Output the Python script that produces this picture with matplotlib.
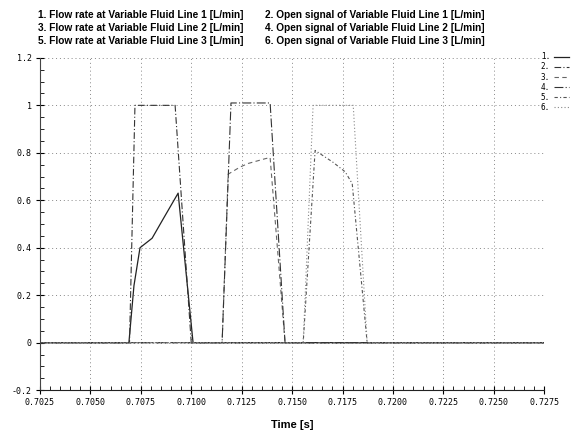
import matplotlib
matplotlib.use("Agg")
import matplotlib.pyplot as plt
import numpy as np
from matplotlib.ticker import MultipleLocator

T0, T1 = 0.7025, 0.7275

# Flow rate at Variable Fluid Line 1
t_flow1 = [0.7025, 0.70691, 0.70716, 0.70746, 0.70806, 0.70860, 0.70935, 0.71009, 0.7275]
v_flow1 = [0.0, 0.0, 0.24, 0.40, 0.44, 0.52, 0.63, 0.0, 0.0]
# Open signal of Variable Fluid Line 1
t_open1 = [0.7025, 0.70694, 0.70721, 0.70920, 0.71000, 0.7275]
v_open1 = [0.0, 0.0, 1.0, 1.0, 0.0, 0.0]
# Flow rate at Variable Fluid Line 2
t_flow2 = [0.7025, 0.71153, 0.71183, 0.71242, 0.71282, 0.71366, 0.71391, 0.71465, 0.7275]
v_flow2 = [0.0, 0.0, 0.71, 0.74, 0.755, 0.775, 0.78, 0.0, 0.0]
# Open signal of Variable Fluid Line 2
t_open2 = [0.7025, 0.71153, 0.71197, 0.71391, 0.71465, 0.7275]
v_open2 = [0.0, 0.0, 1.01, 1.01, 0.0, 0.0]
# Flow rate at Variable Fluid Line 3
t_flow3 = [0.7025, 0.71555, 0.71614, 0.71703, 0.71763, 0.71798, 0.71872, 0.7275]
v_flow3 = [0.0, 0.0, 0.81, 0.76, 0.72, 0.67, 0.0, 0.0]
# Open signal of Variable Fluid Line 3
t_open3 = [0.7025, 0.71555, 0.71604, 0.71803, 0.71872, 0.7275]
v_open3 = [0.0, 0.0, 1.0, 1.0, 0.0, 0.0]

titles = ["1. Flow rate at Variable Fluid Line 1 [L/min]",
          "2. Open signal of Variable Fluid Line 1 [L/min]",
          "3. Flow rate at Variable Fluid Line 2 [L/min]",
          "4. Open signal of Variable Fluid Line 2 [L/min]",
          "5. Flow rate at Variable Fluid Line 3 [L/min]",
          "6. Open signal of Variable Fluid Line 3 [L/min]"]
leg_labels = ["1.", "2.", "3.", "4.", "5.", "6."]
xticks = [0.7025, 0.7050, 0.7075, 0.7100, 0.7125, 0.7150, 0.7175, 0.7200, 0.7225, 0.7250, 0.7275]
yticks = [-0.2, 0, 0.2, 0.4, 0.6, 0.8, 1, 1.2]

fig = plt.figure(figsize=(5.79, 4.32), dpi=100)
ax = fig.add_axes([0.069, 0.097, 0.871, 0.769])

series = [
    (t_flow1, v_flow1, dict(color="#222222", lw=0.9, ls="-")),
    (t_open1, v_open1, dict(color="#333333", lw=0.8, ls=(0, (6, 2, 1, 2)))),
    (t_flow2, v_flow2, dict(color="#666666", lw=0.8, ls=(0, (4, 3)))),
    (t_open2, v_open2, dict(color="#333333", lw=0.8, ls=(0, (8, 2, 1, 2)))),
    (t_flow3, v_flow3, dict(color="#555555", lw=0.8, ls=(0, (3, 2, 1, 2)))),
    (t_open3, v_open3, dict(color="#888888", lw=0.8, ls=(0, (1, 2)))),
]
handles = []
for (t, v, st), lab in zip(series, leg_labels):
    h, = ax.plot(t, v, label=lab, **st)
    handles.append(h)

ax.set_xlim(T0, T1)
ax.set_ylim(-0.2, 1.2)
ax.set_xticks(xticks)
ax.set_xticklabels([f"{x:.4f}" for x in xticks])
ax.set_yticks(yticks)
ax.set_yticklabels(["-0.2", "0", "0.2", "0.4", "0.6", "0.8", "1", "1.2"])
ax.xaxis.set_minor_locator(MultipleLocator(0.0005))
ax.yaxis.set_minor_locator(MultipleLocator(0.05))
ax.tick_params(which="major", direction="inout", length=6, width=0.8,
               labelsize=6, labelfontfamily="DejaVu Sans Mono", pad=3)
ax.tick_params(which="minor", direction="in", length=3, width=0.6)
ax.grid(True, which="major", ls=(0, (1, 3)), color="#888888", lw=0.7)
ax.spines["top"].set_visible(False)
ax.spines["right"].set_visible(False)
ax.spines["left"].set_color("#444444")
ax.spines["bottom"].set_color("#222222")
ax.set_xlabel("Time [s]", fontsize=8, fontweight="bold", family="Liberation Sans", labelpad=9)

col_x = [0.066, 0.458]
row_y = [0.965, 0.936, 0.906]
for i, txt in enumerate(titles):
    fig.text(col_x[i % 2], row_y[i // 2], txt, fontsize=7.3, fontweight="bold",
             family="Liberation Sans", va="center", ha="left")

fig.legend(handles=handles, labels=leg_labels, loc="upper left",
           bbox_to_anchor=(0.922, 0.895), frameon=False,
           handlelength=2.0, handletextpad=0.5, labelspacing=0.15,
           markerfirst=False, prop={"family": "DejaVu Sans Mono", "size": 5.5})

fig.savefig("out.png", dpi=100)
